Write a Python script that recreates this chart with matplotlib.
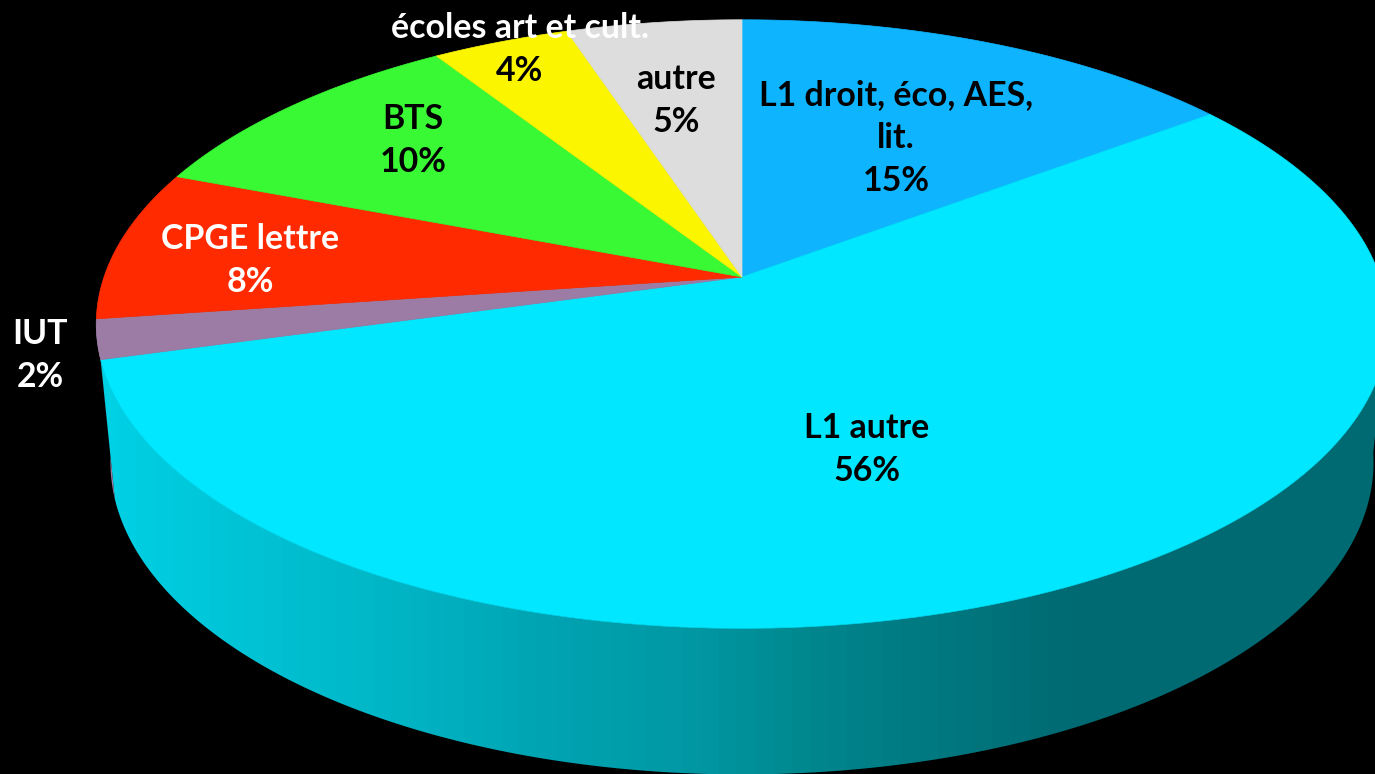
import numpy as np
import matplotlib
matplotlib.use("Agg")
import matplotlib.pyplot as plt
from matplotlib.colors import LinearSegmentedColormap
from matplotlib.patches import Polygon

# slices, clockwise from 12 o'clock
categories = ["L1 droit, éco, AES,\nlit.", "L1 autre", "IUT", "CPGE lettre", "BTS", "écoles art et cult.", "autre"]
percent_labels = ["15%", "56%", "2%", "8%", "10%", "4%", "5%"]
# sizes, the labels are rounded
values = [14.8, 55.9, 2.1, 8.0, 10.1, 4.0, 5.1]
colors = ["#0FB4FF", "#00E7FF", "#9C7CA4", "#FF2A00", "#39F934", "#FBF600", "#DDDDDD"]

# label position in pixels, name colour, percent colour
label_x = [896, 867, 40, 250, 413, 520, 676]
label_y = [93, 426, 332, 237, 117, 26, 77]
name_colors = ["black", "black", "white", "white", "black", "white", "black"]
pct_colors = ["black", "black", "white", "white", "black", "black", "black"]

# wall shade along x, pixels
wall_x = [100, 250, 400, 550, 700, 800, 900, 1000, 1075, 1375]
wall_colors = ["#00D0E4", "#00C2D4", "#00B4C4", "#00A3B2", "#0097A3", "#00888F", "#007C84", "#00727A", "#006A72", "#006A72"]

CX, CY = 742, 277
SX, SY = 638, 297
K = 0.1546


def project(theta):
    # flat disc seen in perspective, theta clockwise from the top
    u = np.sin(theta)
    v = np.cos(theta)
    w = 1 + K * v
    return SX * u / w, SY * v / w


def top_ring(theta):
    x, y = project(theta)
    return CX + x, CY - y


def low_ring(theta):
    x, y = project(theta)
    return CX + 0.978 * x, CY - 1.026 * y + 137


fig = plt.figure(figsize=(13.75, 7.74), dpi=100, facecolor="black")
ax = fig.add_axes([0, 0, 1, 1])

edges = np.cumsum([0] + values) / sum(values) * 2 * np.pi

# purple sliver of the IUT wall on the far left
t = np.linspace(edges[2], edges[3], 10)
tx, ty = top_ring(t)
bx, by = low_ring(t)
ax.fill(np.r_[tx, bx[::-1]], np.r_[ty, by[::-1]], color="#9C7CA4", lw=0)

# wall of the big slice: banded gradient clipped to the outline
t = np.linspace(edges[2], np.pi * 0.54, 300)
tx, ty = top_ring(t)
bx, by = low_ring(t)
outline = Polygon(np.c_[np.r_[tx, bx[::-1]], np.r_[ty, by[::-1]]], closed=True, fc="none", ec="none")
ax.add_patch(outline)
stops = [(v - wall_x[0]) / (wall_x[-1] - wall_x[0]) for v in wall_x]
wall_cmap = LinearSegmentedColormap.from_list("wall", list(zip(stops, wall_colors)))
bands = np.linspace(0, 1, 70).reshape(1, -1)
img = ax.imshow(bands, cmap=wall_cmap, extent=[wall_x[0], wall_x[-1], 774, 0], aspect="auto", interpolation="nearest")
img.set_clip_path(outline)

# top face
for i, c in enumerate(colors):
    t = np.linspace(edges[i], edges[i + 1], 200)
    x, y = top_ring(t)
    ax.fill(np.r_[CX, x], np.r_[CY, y], color=c, lw=0.5, ec=c)

for i, name in enumerate(categories):
    y = label_y[i]
    for line in name.split("\n"):
        ax.text(label_x[i], y + 2, line, color=name_colors[i], ha="center", va="center",
                fontsize=24.4, fontweight="bold", family="Lato")
        y += 43
    ax.text(label_x[i], y + 2, percent_labels[i], color=pct_colors[i], ha="center", va="center",
            fontsize=24.4, fontweight="bold", family="Lato")

ax.set_xlim(0, 1375)
ax.set_ylim(774, 0)
ax.axis("off")

fig.savefig("out.png", dpi=100, facecolor="black")
